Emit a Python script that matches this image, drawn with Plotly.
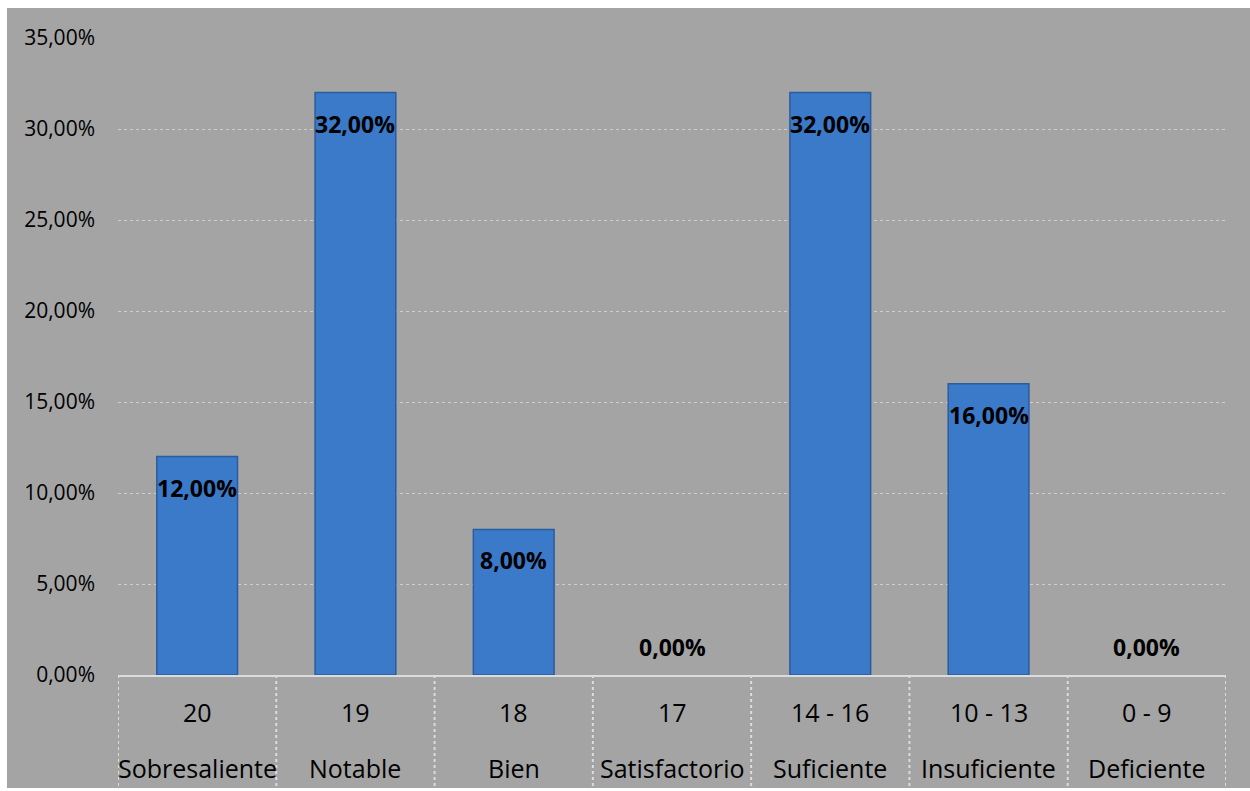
import plotly.graph_objects as go

scores = ["20", "19", "18", "17", "14 - 16", "10 - 13", "0 - 9"]
grades = ["Sobresaliente", "Notable", "Bien", "Satisfactorio", "Suficiente", "Insuficiente", "Deficiente"]
percent = [12.0, 32.0, 8.0, 0.0, 32.0, 16.0, 0.0]
y_ticks = [0, 5, 10, 15, 20, 25, 30, 35]

FONT = "Open Sans"
n = len(scores)
xs = list(range(n))

def fmt(v):
    return f"{v:.2f}".replace(".", ",") + "%"

fig = go.Figure()
fig.add_trace(go.Bar(
    x=xs, y=percent, width=0.51,
    marker=dict(color="#3b79c9",
                line=dict(color=["#2b5c9e" if v > 0 else "rgba(0,0,0,0)" for v in percent], width=1.5)),
    hoverinfo="skip",
))

annotations = []
for i, v in enumerate(percent):
    annotations.append(dict(
        x=xs[i], y=v, xref="x", yref="y", text=f"<b>{fmt(v)}</b>",
        showarrow=False, font=dict(family=FONT, size=23, color="black"),
        yshift=(-31 if v > 0 else 28), yanchor="middle",
    ))
    annotations.append(dict(
        x=xs[i], y=-0.058, xref="x", yref="paper", text=scores[i],
        showarrow=False, font=dict(family=FONT, size=25, color="black"), yanchor="middle",
    ))
    annotations.append(dict(
        x=xs[i], y=-0.146, xref="x", yref="paper", text=grades[i],
        showarrow=False, font=dict(family=FONT, size=25, color="black"), yanchor="middle",
    ))

shapes = [dict(type="rect", xref="paper", yref="paper", x0=-0.1002, x1=1.03,
               y0=-0.1774, y1=1.0471, fillcolor="#a4a4a4", line=dict(width=0), layer="below")]
for b in range(n + 1):
    shapes.append(dict(type="line", xref="x", yref="paper", x0=b - 0.5, x1=b - 0.5,
                       y0=0, y1=-0.175, line=dict(color="#dcdcdc", width=2, dash="dot")))

fig.update_layout(
    width=1250, height=791,
    margin=dict(l=118, r=24, t=38, b=116),
    paper_bgcolor="white", plot_bgcolor="rgba(0,0,0,0)",
    showlegend=False,
    annotations=annotations, shapes=shapes,
    xaxis=dict(range=[-0.5, n - 0.5], showticklabels=False, showgrid=False,
               zeroline=False, showline=True, linecolor="#dcdcdc", linewidth=2, fixedrange=True),
    yaxis=dict(range=[0, 35], tickvals=y_ticks, ticktext=[fmt(t) for t in y_ticks],
               showgrid=True, gridcolor="#cfcfcf", gridwidth=1, griddash="dot",
               zeroline=False, ticklabelstandoff=22,
               tickfont=dict(family=FONT, size=21, color="black")),
)

fig.write_html("out.html")
